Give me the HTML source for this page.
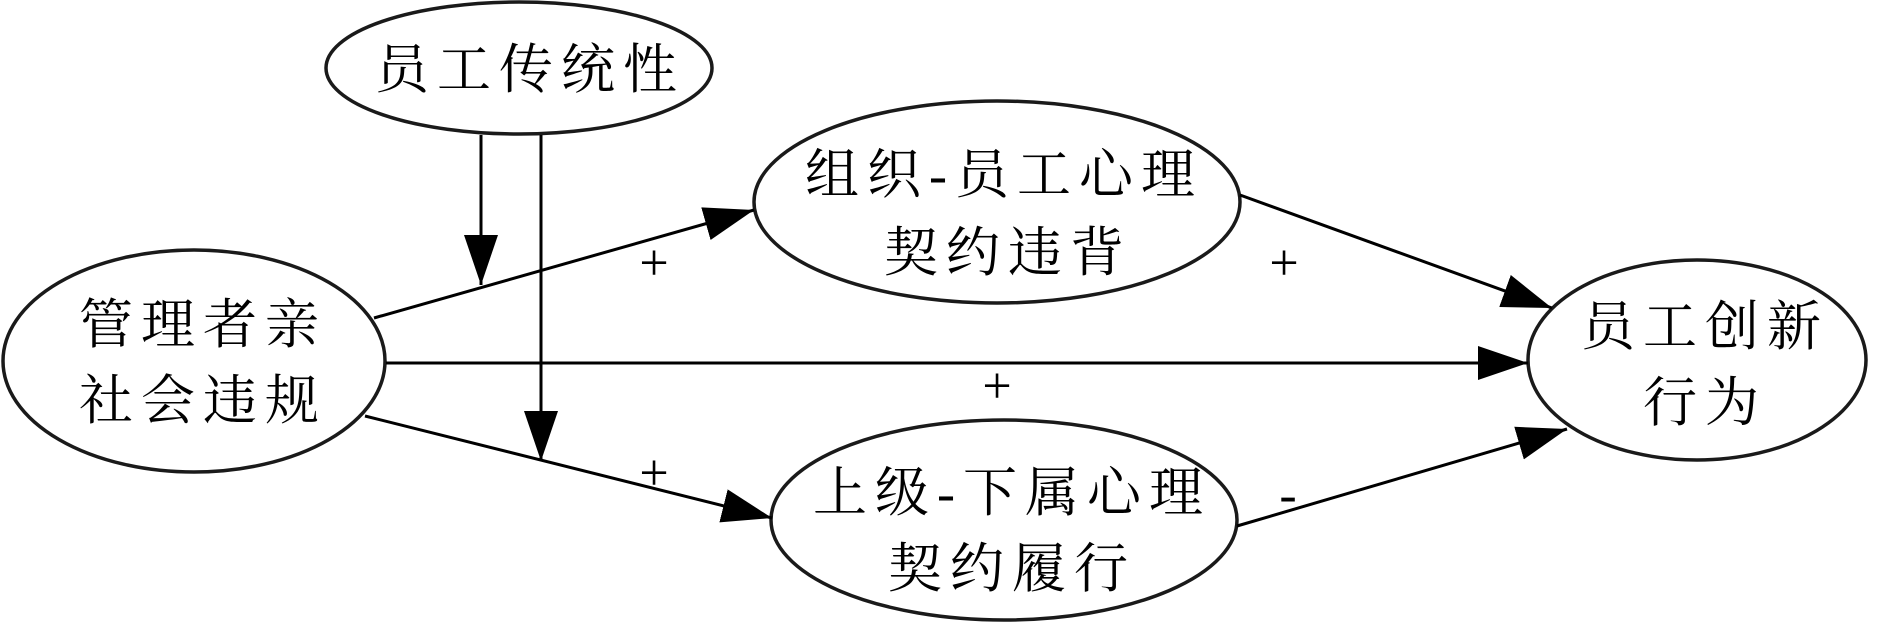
<!DOCTYPE html>
<html><head><meta charset="utf-8"><style>
html,body{margin:0;padding:0;background:#fff;}
svg{display:block;}
text{font-family:"Liberation Serif","Noto Serif CJK SC","Noto Sans CJK SC",serif;font-size:54px;fill:#000;letter-spacing:8px;}
.s{font-size:52px;letter-spacing:0;font-family:"Liberation Serif",serif;}
</style></head><body>
<svg width="1892" height="623" viewBox="0 0 1892 623" xmlns="http://www.w3.org/2000/svg">
<defs>
<marker id="a" markerUnits="userSpaceOnUse" markerWidth="52" markerHeight="40" refX="50" refY="20" orient="auto">
<path d="M0,3 L50,20 L0,37 Z" fill="#000"/>
</marker>
</defs>
<g fill="none" stroke="#1a1a1a" stroke-width="3.5">
<ellipse cx="519" cy="68" rx="193" ry="66"/>
<ellipse cx="194" cy="361" rx="191" ry="111"/>
<ellipse cx="997" cy="202" rx="243" ry="101"/>
<ellipse cx="1004" cy="520" rx="233" ry="100"/>
<ellipse cx="1697" cy="360" rx="169" ry="100"/>
</g>
<g stroke="#000" stroke-width="3" fill="none">
<line x1="481" y1="135" x2="481" y2="285" marker-end="url(#a)"/>
<line x1="541" y1="135" x2="541" y2="461" marker-end="url(#a)"/>
<line x1="374" y1="318" x2="754" y2="210" marker-end="url(#a)"/>
<line x1="386" y1="363" x2="1528" y2="363" marker-end="url(#a)"/>
<line x1="365" y1="416" x2="772" y2="518" marker-end="url(#a)"/>
<line x1="1240" y1="195" x2="1552" y2="308" marker-end="url(#a)"/>
<line x1="1237" y1="526" x2="1567" y2="429" marker-end="url(#a)"/>
</g>
<g text-anchor="middle">
<text x="530" y="88">员工传统性</text>
<text x="203" y="343">管理者亲</text>
<text x="203" y="419">社会违规</text>
<text x="1004" y="193">组织-员工心理</text>
<text x="1008" y="271">契约违背</text>
<text x="1012" y="511">上级-下属心理</text>
<text x="1012" y="587">契约履行</text>
<text x="1705" y="345">员工创新</text>
<text x="1705" y="421">行为</text>
<text class="s" x="654" y="280">+</text>
<text class="s" x="654" y="490">+</text>
<text class="s" x="1284" y="280">+</text>
<text class="s" x="997" y="403">+</text>
<text class="s" x="1288" y="512">-</text>
</g>
</svg>
</body></html>
